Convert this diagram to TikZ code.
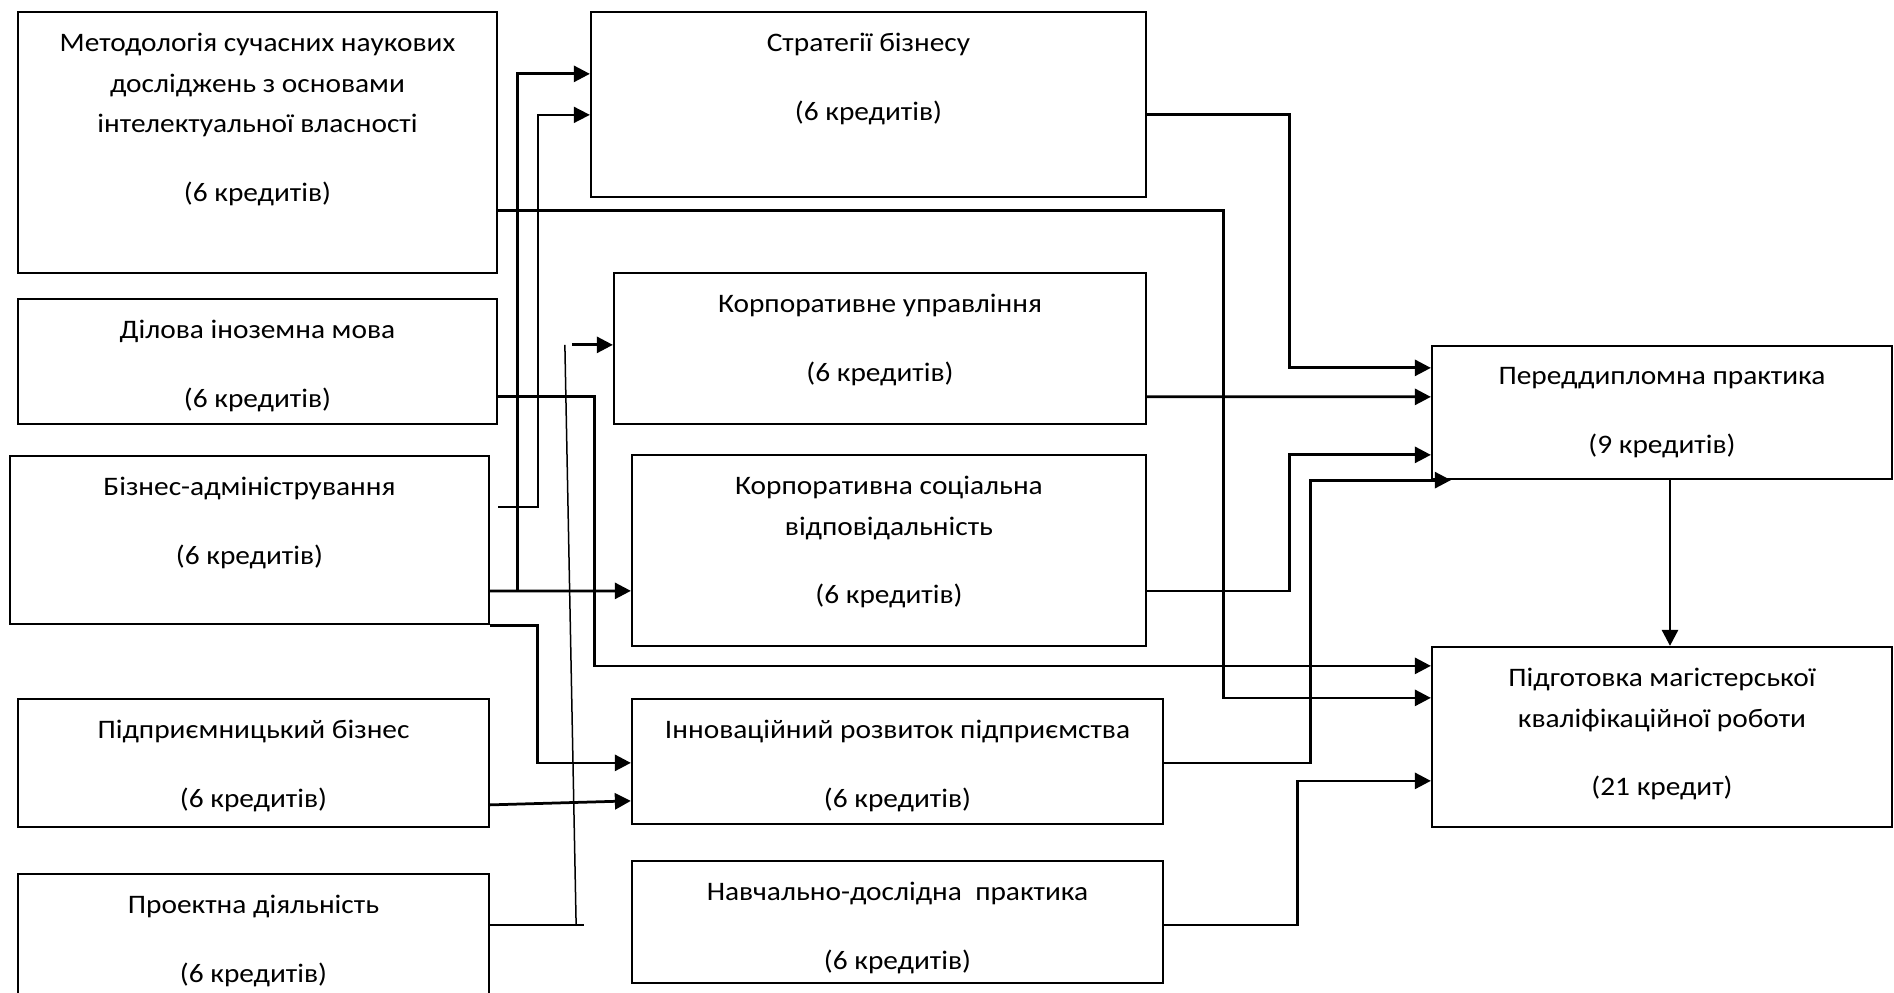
\documentclass[tikz,border=0pt]{standalone}
\usepackage{fontspec}
\setmainfont{Carlito}[FakeStretch=1.1]
\usetikzlibrary{positioning,arrows.meta,calc}

\tikzset{
  box/.style={draw,line width=0.45mm,inner sep=0pt},
  txt/.style={align=center,anchor=north,inner sep=0pt,font=\fontsize{15.2pt}{23pt}\selectfont,
    execute at begin node=\strut},
  arr/.style={line width=0.55mm,-{Triangle[length=3.2mm,width=3.2mm]}},
  thinln/.style={line width=0.3mm}
}

\begin{document}
\begin{tikzpicture}[x=0.2mm,y=-0.2mm]
  \path[use as bounding box,fill=white] (0,0) rectangle (1894,993);
  % boxes: name/x/y/width/height
  \foreach \n/\x/\y/\w/\h in {met/257.5/142.5/95.8/52.2, dil/257.5/361.5/95.8/25,
      biz/249.5/540/95.8/33.6, pidpr/253.5/763/94.2/25.6, proekt/253.5/937/94.2/25.2,
      strat/868.5/104.5/111/37, korp/880/348.5/106.4/30.2, ksv/889/550.5/102.8/38.2,
      innov/897.5/761.5/106.2/25, navch/897.5/922/106.2/24.4,
      pered/1662/412.5/92/26.6, pidg/1662/737/92/36}{
    \node[box,minimum width=\w mm,minimum height=\h mm] (\n) at (\x,\y) {};
  }

  \node[txt] (met-t) at ($(met.north)+(0,22)$) {Методологія сучасних наукових\\досліджень з основами\\інтелектуальної власності\\[5.7mm](6 кредитів)};
  \node[txt] (dil-t) at ($(dil.north)+(0,22)$) {Ділова іноземна мова\\[5.7mm](6 кредитів)};
  \node[txt] (biz-t) at ($(biz.north)+(0,22)$) {Бізнес-адміністрування\\[5.7mm](6 кредитів)};
  \node[txt] (pidpr-t) at ($(pidpr.north)+(0,22)$) {Підприємницький бізнес\\[5.7mm](6 кредитів)};
  \node[txt] (proekt-t) at ($(proekt.north)+(0,22)$) {Проектна діяльність\\[5.7mm](6 кредитів)};
  \node[txt] (strat-t) at ($(strat.north)+(0,22)$) {Стратегії бізнесу\\[5.7mm](6 кредитів)};
  \node[txt] (korp-t) at ($(korp.north)+(0,22)$) {Корпоративне управління\\[5.7mm](6 кредитів)};
  \node[txt] (ksv-t) at ($(ksv.north)+(0,22)$) {Корпоративна соціальна\\відповідальність\\[5.7mm](6 кредитів)};
  \node[txt] (innov-t) at ($(innov.north)+(0,22)$) {Інноваційний розвиток підприємства\\[5.7mm](6 кредитів)};
  \node[txt] (navch-t) at ($(navch.north)+(0,22)$) {Навчально-дослідна\ \ практика\\[5.7mm](6 кредитів)};
  \node[txt] (pered-t) at ($(pered.north)+(0,22)$) {Переддипломна практика\\[5.7mm](9 кредитів)};
  \node[txt] (pidg-t) at ($(pidg.north)+(0,22)$) {Підготовка магістерської\\кваліфікаційної роботи\\[5.7mm](21 кредит)};

  % links from the left column
  \draw[arr] ($(met.north east)+(0,200)$) -- ++(725,0) |- ($(pidg.north west)+(0,52)$);
  \draw[arr] ($(dil.north east)+(0,98.5)$) -- ++(96,0) |- ($(pidg.north west)+(0,20)$);
  \draw[arr] ($(biz.north east)+(0,136)$) -- ($(ksv.north west)+(0,137)$);
  \draw[arr] ($(biz.north east)+(27,136)$) |- ($(strat.north west)+(0,63)$);
  \draw[arr,line width=0.35mm] ($(biz.north east)+(8,52)$) -- ++(40,0) |- ($(strat.north west)+(0,104)$);
  \draw[arr] (biz.south east) -- ++(47,0) |- ($(innov.north west)+(0,65)$);
  \draw[arr] ($(pidpr.north east)+(0,107)$) -- ($(innov.north west)+(0,103)$);
  \draw[thinln] ($(proekt.north east)+(0,52)$) -- ++(94,0);
  \draw[thinln] ($(proekt.north east)+(86,52)$) -- ($(korp.north west)+(-48,73)$);
  \draw[arr] ($(korp.north west)+(-41,73)$) -- ($(korp.north west)+(0,73)$);

  % links from the middle column
  \draw[arr] ($(strat.north east)+(0,104)$) -- ++(142,0) |- ($(pered.north west)+(0,23)$);
  \draw[arr] ($(korp.north east)+(0,125)$) -- ($(pered.north west)+(0,52)$);
  \draw[arr] ($(ksv.north east)+(0,137)$) -- ++(142,0) |- ($(pered.north west)+(0,110)$);
  \draw[arr] ($(innov.north east)+(0,65)$) -- ++(146,0) |- ($(pered.south west)+(20,0)$);
  \draw[arr] ($(navch.north east)+(0,65)$) -- ++(133,0) |- ($(pidg.north west)+(0,135)$);
  \draw[arr] ($(pered.south)+(8,0)$) -- ($(pidg.north)+(8,0)$);
\end{tikzpicture}
\end{document}
